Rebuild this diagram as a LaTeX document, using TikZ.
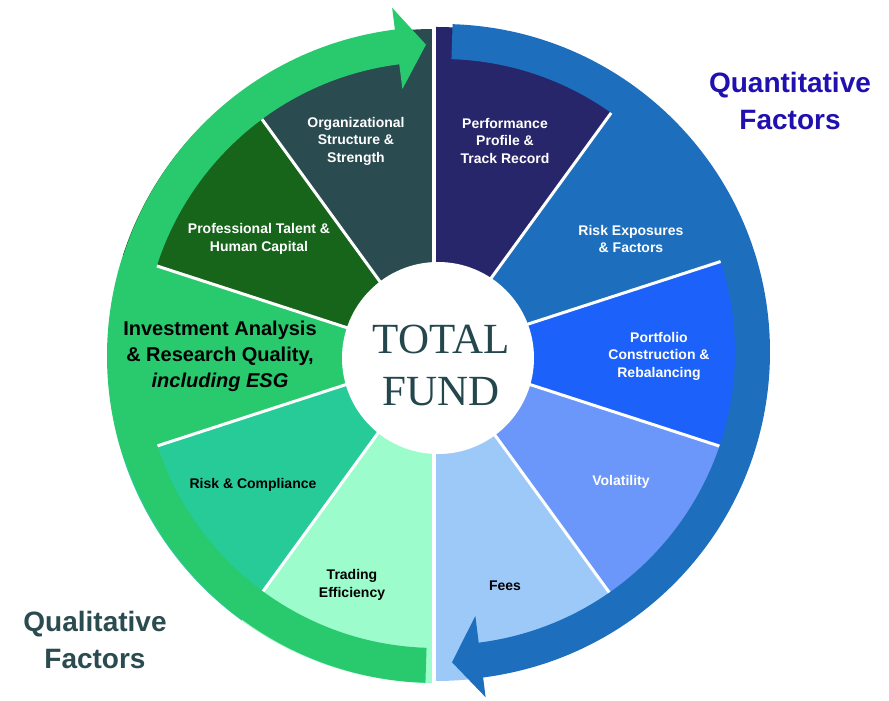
\documentclass[tikz,border=0pt]{standalone}
\usepackage{fontspec}
\setmainfont{Liberation Sans}
\newfontfamily\titleserif{Liberation Serif}
\definecolor{orgc}{HTML}{2A4B50}
\definecolor{perfc}{HTML}{28266A}
\definecolor{profc}{HTML}{17651A}
\definecolor{greenc}{HTML}{29C96E}
\definecolor{riskc}{HTML}{27CB98}
\definecolor{tradc}{HTML}{9CFCCB}
\definecolor{feesc}{HTML}{9DC9F8}
\definecolor{volc}{HTML}{6A97F9}
\definecolor{portc}{HTML}{1C61FA}
\definecolor{bluec}{HTML}{1D6FBD}
\definecolor{quantc}{HTML}{2010B0}
\definecolor{qualc}{HTML}{2A4B50}
\definecolor{hubtext}{HTML}{24474E}
\newcommand\mysector[4]{%
  \fill[#4] #1 -- ++(#2:327) arc[start angle=#2, end angle=#3, radius=327] -- cycle;}
\tikzset{
  divider/.style={draw=white, line width=3},
  lbl/.style={font=\bfseries\fontsize{14}{17.5}\selectfont, align=center, inner sep=0, text=white},
  dlbl/.style={lbl, text=black},
  bigtitle/.style={font=\bfseries\fontsize{28}{37}\selectfont, align=center, inner sep=0},
}
\begin{document}
\begin{tikzpicture}[x=1pt, y=1pt]
\useasboundingbox (0,0) rectangle (889,701);
\fill[white] (0,0) rectangle (889,701);
% left half sectors
\mysector{(434,345)}{90}{126}{orgc}
\mysector{(434,345)}{126}{162}{profc}
\mysector{(434,345)}{162}{198}{greenc}
\mysector{(434,345)}{198}{234}{riskc}
\mysector{(434,345)}{234}{270}{tradc}
% right half sectors
\mysector{(436,347)}{54}{90}{perfc}
\mysector{(436,347)}{18}{54}{bluec}
\mysector{(436,347)}{-18}{18}{portc}
\mysector{(436,347)}{-54}{-18}{volc}
\mysector{(436,347)}{-90}{-54}{feesc}
% dividers
\foreach \a in {126,162,198,234} \draw[divider] (434,345) -- ++(\a:310);
\foreach \a in {54,18,-18,-54} \draw[divider] (436,347) -- ++(\a:312);
\draw[white, line width=4] (434,12) -- (434,680);
% green ring arrow
\begin{scope}[shift={(436,346)}]
\fill[greenc] (268.15:328) arc[start angle=268.15, end angle=97.2, radius=328]
  -- (97.2:350) -- (91.85:310.5) -- (97.2:268) -- (97.2:293)
  arc[start angle=97.2, end angle=268.15, radius=293] -- cycle;
\end{scope}
% blue ring arrow
\begin{scope}[shift={(442,349)}]
\fill[bluec] (88.15:328) arc[start angle=88.15, end angle=-82.8, radius=328]
  -- (-82.8:348) -- (-88.15:310.5) -- (-82.8:266) -- (-82.8:293)
  arc[start angle=-82.8, end angle=88.15, radius=293] -- cycle;
\end{scope}
% hub
\node[circle, fill=white, minimum size=192, inner sep=0] (hub) at (438,343) {};
\node[font=\titleserif\fontsize{43}{52}\selectfont, text=hubtext, align=center, inner sep=0] (total) at (441,336) {TOTAL\\FUND};
% labels
\node[lbl] (org) at (356,560) {Organizational\\Structure \&\\Strength};
\node[lbl] (perf) at (505,560) {Performance\\Profile \&\\Track Record};
\node[lbl] (prof) at (259,462) {Professional Talent \&\\Human Capital};
\node[lbl] (riskexp) at (631,462) {Risk Exposures\\\& Factors};
\node[lbl] (port) at (659,345) {Portfolio\\Construction \&\\Rebalancing};
\node[dlbl] (riskcomp) at (253,216) {Risk \& Compliance};
\node[dlbl] (trading) at (352,116) {Trading\\Efficiency};
\node[lbl] (vol) at (621,219) {Volatility};
\node[dlbl] (fees) at (505,115) {Fees};
\node[font=\bfseries\fontsize{20}{26}\selectfont, align=center, inner sep=0] (invest) at (220,345) {Investment Analysis\\\& Research Quality,\\\textit{including ESG}};
\node[bigtitle, text=quantc] (quant) at (790,600) {Quantitative\\Factors};
\node[bigtitle, text=qualc] (qual) at (95,61) {Qualitative\\Factors};
\end{tikzpicture}
\end{document}
